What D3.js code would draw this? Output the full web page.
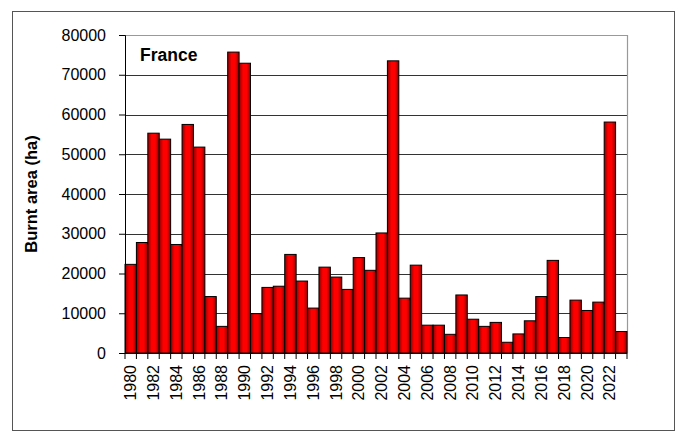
<!DOCTYPE html>
<html><head><meta charset="utf-8">
<script src="https://cdn.jsdelivr.net/npm/d3@7"></script>
<style>body{margin:0;background:#fff;}svg{display:block;font-family:"Liberation Sans",Arial,sans-serif;}</style>
</head><body>
<svg id="c" width="680" height="433"></svg>
<script>
const years = d3.range(1980, 2024);
const burnt = [22300,27800,55300,53800,27300,57500,51800,14200,6700,75700,72900,9900,16500,16800,24800,18100,11300,21600,19100,16000,24000,20800,30200,73500,13800,22100,7000,7000,4700,14600,8500,6700,7700,2700,4800,8100,14200,23300,3900,13300,10700,12800,58100,5400];
const yTicks = [0,10000,20000,30000,40000,50000,60000,70000,80000];
const labelYears = years.filter(y => y % 2 === 0);

const svg = d3.select("#c");
const m = {l:125, r:627, t:35, b:353};

svg.append("rect").attr("x",12.5).attr("y",11.5).attr("width",662).attr("height",419)
  .attr("fill","#fff").attr("stroke","#555").attr("stroke-width",1);

const defs = svg.append("defs");
const g = defs.append("linearGradient").attr("id","bg").attr("x1","0").attr("x2","1").attr("y1","0").attr("y2","0");
g.append("stop").attr("offset","0%").attr("stop-color","#900000");
g.append("stop").attr("offset","35%").attr("stop-color","#ff0000");
g.append("stop").attr("offset","65%").attr("stop-color","#ff0000");
g.append("stop").attr("offset","100%").attr("stop-color","#900000");

const x = d3.scaleBand().domain(years).range([m.l, m.r]).paddingInner(0).paddingOuter(0);
const y = d3.scaleLinear().domain([0,80000]).range([m.b, m.t]);

// gridlines
svg.append("g").selectAll("line").data(yTicks.slice(1,-1)).join("line")
  .attr("x1",m.l).attr("x2",m.r).attr("y1",d=>Math.round(y(d))+0.5).attr("y2",d=>Math.round(y(d))+0.5)
  .attr("stroke","#333").attr("stroke-width",1);
// top and right border
svg.append("path").attr("d",`M${m.l},${m.t+0.5}H${m.r+0.5}V${m.b}`).attr("fill","none").attr("stroke","#999").attr("stroke-width",1.2);

// bars
svg.append("g").selectAll("rect").data(years).join("rect")
  .attr("x",d=>x(d)).attr("width",x.bandwidth())
  .attr("y",(d,i)=>y(burnt[i])).attr("height",(d,i)=>y(0)-y(burnt[i]))
  .attr("fill","url(#bg)").attr("stroke","#000").attr("stroke-width",1);

// y axis
const ya = svg.append("g").attr("transform",`translate(${m.l},0)`)
  .call(d3.axisLeft(y).tickValues(yTicks).tickFormat(d3.format("d")).tickSize(6).tickPadding(13));
ya.select(".domain").attr("stroke","#000");
ya.selectAll(".tick line").attr("stroke","#000");
ya.selectAll("text").attr("font-size",16).attr("fill","#000").attr("font-family","Liberation Sans, Arial, sans-serif");

// x axis
const xa = svg.append("g").attr("transform",`translate(0,${m.b})`);
xa.append("line").attr("x1",m.l).attr("x2",m.r).attr("y1",0.5).attr("y2",0.5).attr("stroke","#000");
xa.selectAll(".tk").data(years.concat([2024])).join("line").attr("class","tk")
  .attr("x1",d=>d===2024? m.r : x(d)).attr("x2",d=>d===2024? m.r : x(d))
  .attr("y1",0).attr("y2",6).attr("stroke","#000");
xa.selectAll("text").data(labelYears).join("text")
  .attr("transform",d=>`translate(${x(d)+x.bandwidth()/2+5.5},12) rotate(-90)`)
  .attr("text-anchor","end").attr("font-size",16).attr("fill","#000").text(d=>d);

// y title
svg.append("text").attr("transform",`translate(37,${(m.t+m.b)/2}) rotate(-90)`)
  .attr("text-anchor","middle").attr("font-size",16.5).attr("font-weight","bold").text("Burnt area (ha)");

svg.append("text").attr("x",140).attr("y",61).attr("font-size",17.5).attr("font-weight","bold").text("France");
</script>
</body></html>
